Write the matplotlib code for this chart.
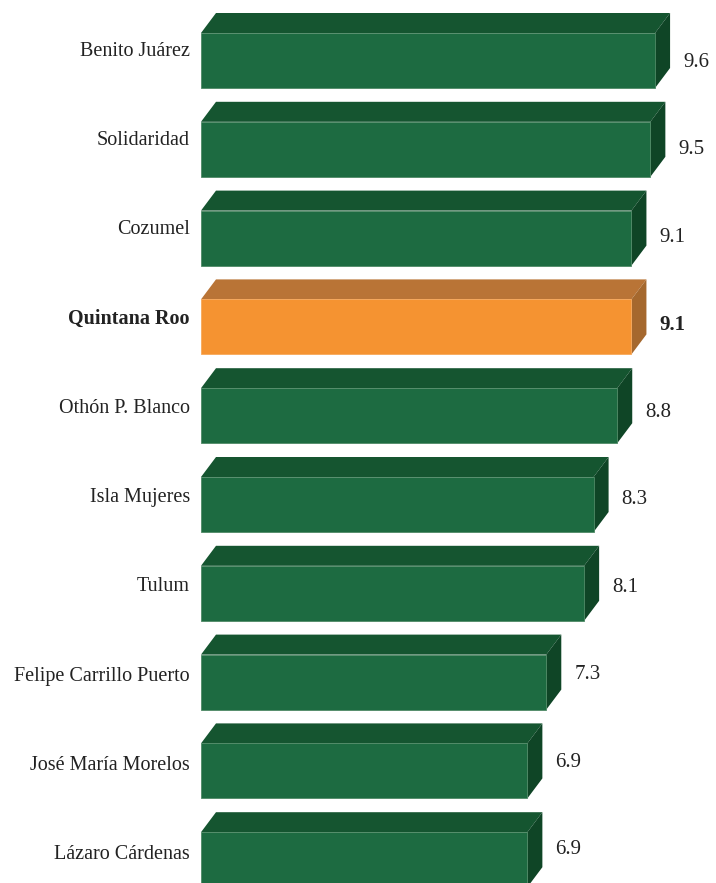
import matplotlib
matplotlib.use('Agg')
import matplotlib.pyplot as plt
from matplotlib.patches import Polygon

# ── Data ─────────────────────────────────────────────────────────────────────
MUNICIPIOS = ["Benito Juárez", "Solidaridad", "Cozumel", "Quintana Roo",
              "Othón P. Blanco", "Isla Mujeres", "Tulum",
              "Felipe Carrillo Puerto", "José María Morelos", "Lázaro Cárdenas"]
VALORES = [9.6, 9.5, 9.1, 9.1, 8.8, 8.3, 8.1, 7.3, 6.9, 6.9]
ESTATAL = "Quintana Roo"

# colours: front, top, side, edge
GREEN = ("#1d6b41", "#155530", "#0f4526", "#4f8a66")
ORANGE = ("#f59331", "#b97436", "#a5682e", "#f7a85a")

W, H = 716, 883
PX_UNIT = 47.3        # pixels per value unit
X0_PX = 201           # left edge of bars
Y0_PX = 60.5          # centre of first bar
PITCH = 88.8          # px between bars
FRONT_H = 55 / PITCH  # front face height in category units
DX = 15 / PX_UNIT     # 3D depth offset (x, data units)
DY = 20 / PITCH       # 3D depth offset (y, category units)

plt.rcParams['font.family'] = ['Liberation Serif', 'DejaVu Serif']

fig = plt.figure(figsize=(W / 100, H / 100), dpi=100)
fig.patch.set_facecolor("white")
ax = fig.add_axes([X0_PX / W, 0, (W - X0_PX) / W, 1])
ax.set_xlim(0, (W - X0_PX) / PX_UNIT)
ax.set_ylim((H - Y0_PX) / PITCH, -Y0_PX / PITCH)
ax.axis("off")

n = len(MUNICIPIOS)
for i, (name, v) in enumerate(zip(MUNICIPIOS, VALORES)):
    front, top, side, edge = ORANGE if name == ESTATAL else GREEN
    y_top = i - FRONT_H / 2
    y_bot = i + FRONT_H / 2
    ax.add_patch(Polygon([(0, y_top), (DX, y_top - DY), (v + DX, y_top - DY), (v, y_top)],
                         closed=True, fc=top, ec="none"))
    ax.add_patch(Polygon([(v, y_top), (v + DX, y_top - DY), (v + DX, y_bot - DY), (v, y_bot)],
                         closed=True, fc=side, ec="none"))
    ax.add_patch(Polygon([(0, y_top), (v, y_top), (v, y_bot), (0, y_bot)],
                         closed=True, fc=front, ec=edge, lw=0.6))
    bold = "bold" if name == ESTATAL else "normal"
    val_off = (2 - 12 * i / (n - 1)) / PITCH
    lab_off = (-9 + 4 * i / (n - 1)) / PITCH
    ax.text(v + DX + 13 / PX_UNIT, i + val_off, f"{v:.1f}", ha="left", va="center",
            fontsize=15, fontweight=bold, color="#222222")
    ax.text(-11 / PX_UNIT, i + lab_off, name, ha="right", va="center", fontsize=14.5,
            fontweight=bold, color="#222222", clip_on=False)

fig.savefig("out.png", dpi=100, facecolor="white")
